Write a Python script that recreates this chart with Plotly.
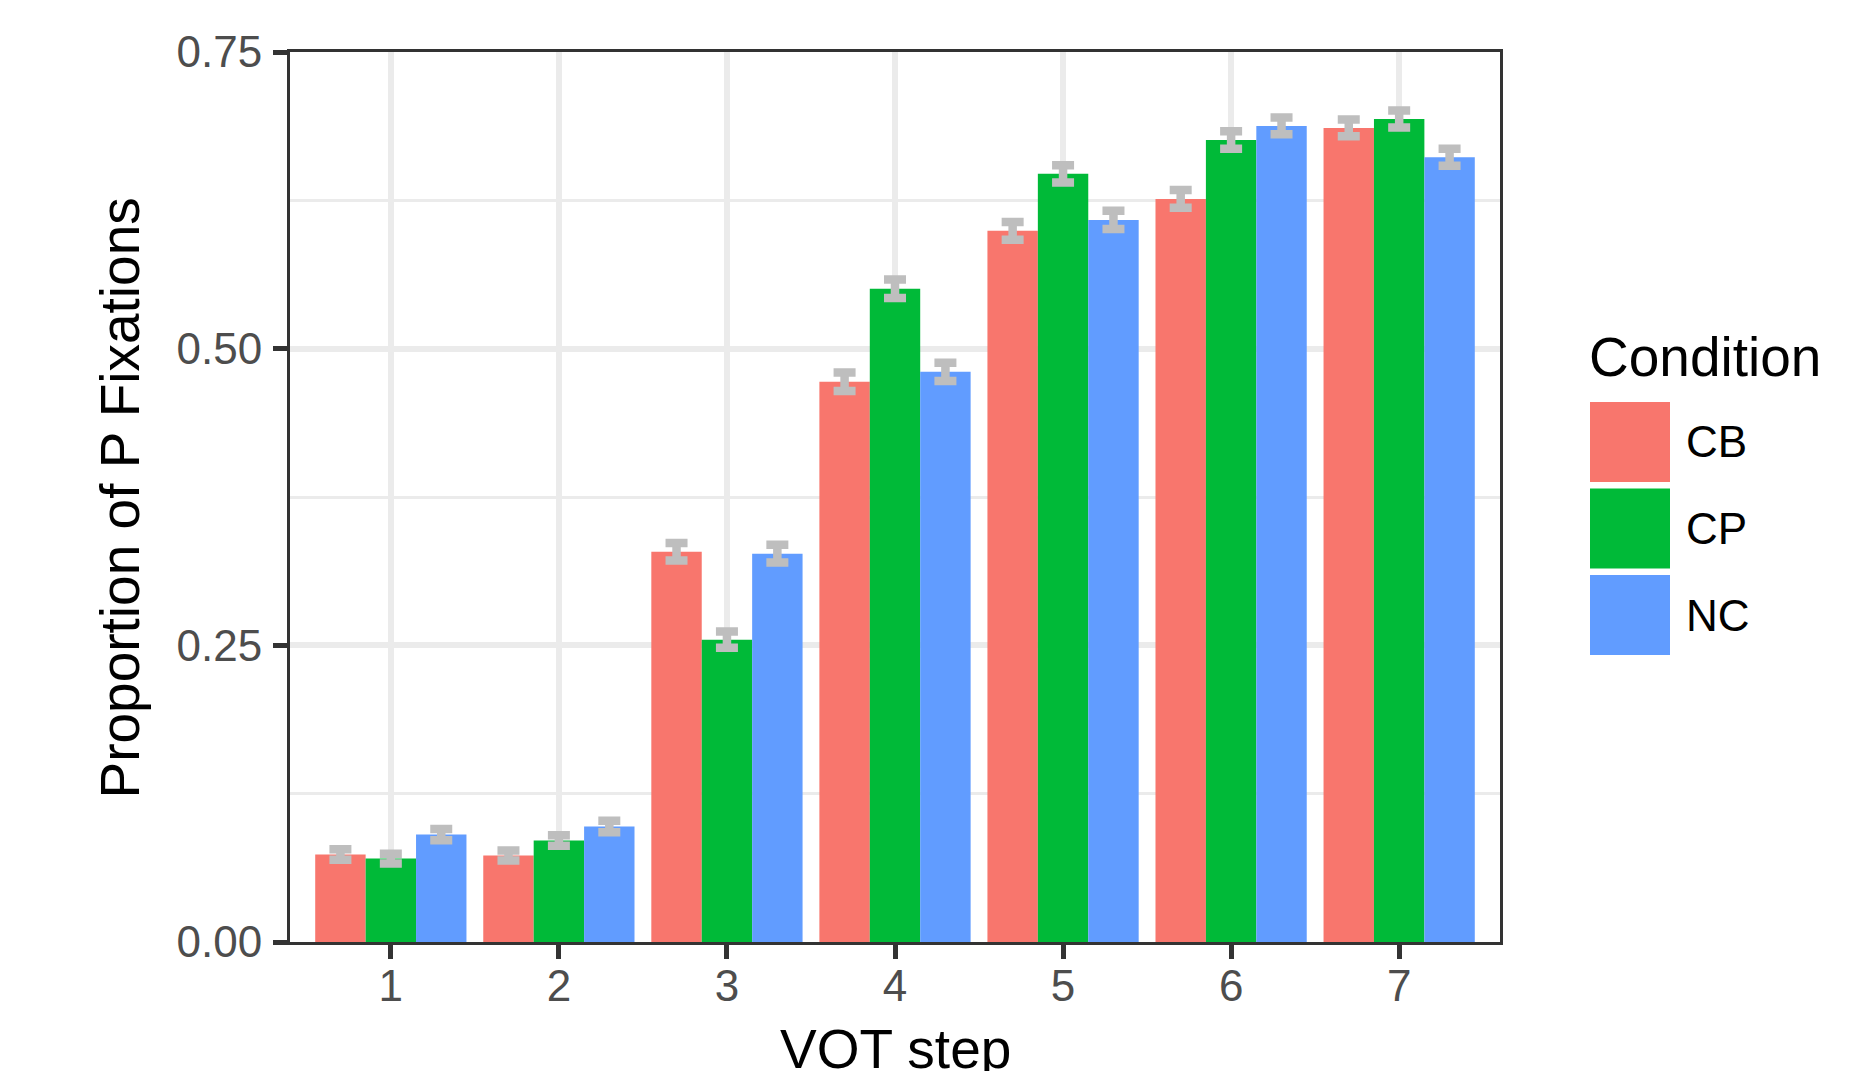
import plotly.graph_objects as go

# VOT continuum steps and experimental conditions
steps = [1, 2, 3, 4, 5, 6, 7]
conditions = ["CB", "CP", "NC"]
colors = ["#F8766D", "#00BA38", "#619CFF"]

# Mean proportion of P fixations per step, by condition
cb_mean = [0.0737, 0.0729, 0.3289, 0.4721, 0.5993, 0.6262, 0.6860]
cp_mean = [0.0703, 0.0855, 0.2548, 0.5504, 0.6473, 0.6759, 0.6936]
nc_mean = [0.0905, 0.0973, 0.3272, 0.4805, 0.6085, 0.6877, 0.6613]

# Standard errors
cb_se = [0.0044, 0.0043, 0.0074, 0.0078, 0.0075, 0.0075, 0.0071]
cp_se = [0.0041, 0.0044, 0.0068, 0.0078, 0.0072, 0.0074, 0.0072]
nc_se = [0.0048, 0.0048, 0.0075, 0.0077, 0.0077, 0.0071, 0.0071]

y_ticks = [0.0, 0.25, 0.5, 0.75]
y_tick_text = ["0.00", "0.25", "0.50", "0.75"]

means = [cb_mean, cp_mean, nc_mean]
ses = [cb_se, cp_se, nc_se]

FONT = "Liberation Sans, Arial, Helvetica, sans-serif"
W, H = 1871, 1071
L, R, T, B = 290, 371, 52, 129
PW, PH = W - L - R, H - T - B


def px_x(x):
    return (x - L) / PW


def px_y(y):
    return (H - B - y) / PH


fig = go.Figure()
for name, col, m, s in zip(conditions, colors, means, ses):
    fig.add_trace(go.Bar(
        x=steps, y=m, name=name,
        marker=dict(color=col, line=dict(width=0)),
        error_y=dict(type="data", array=s, visible=True,
                     color="#BEBEBE", thickness=8.5, width=11),
        showlegend=False,
    ))

axis_common = dict(
    showline=True, linecolor="#333333", linewidth=3, mirror=True,
    ticks="outside", ticklen=14, tickwidth=4.5, tickcolor="#333333",
    tickfont=dict(family=FONT, size=44, color="#4D4D4D"),
    gridcolor="#EBEBEB", gridwidth=5.5, zeroline=False,
)

fig.update_layout(
    width=W, height=H,
    margin=dict(l=L, r=R, t=T, b=B, autoexpand=False),
    paper_bgcolor="white", plot_bgcolor="white",
    barmode="group", bargap=0.1, bargroupgap=0,
    font=dict(family=FONT),
    xaxis=dict(axis_common, range=[0.4, 7.6], tickvals=steps,
               ticktext=[str(s) for s in steps], ticklabelstandoff=-11),
    yaxis=dict(axis_common, range=[0, 0.75], tickvals=y_ticks,
               ticktext=y_tick_text, ticklabelstandoff=2,
               minor=dict(tickvals=[0.125, 0.375, 0.625], showgrid=True,
                          gridcolor="#EBEBEB", gridwidth=3, ticks="")),
)

# Axis titles
fig.add_annotation(text="VOT step", xref="paper", yref="paper",
                   x=0.5, y=0, xanchor="center", yanchor="top", yshift=-74,
                   showarrow=False, font=dict(family=FONT, size=55, color="black"))
fig.add_annotation(text="Proportion of P Fixations", xref="paper", yref="paper",
                   x=px_x(119), y=px_y(498.5), xanchor="center", yanchor="middle",
                   textangle=-90, showarrow=False,
                   font=dict(family=FONT, size=55, color="black"))

# Legend: title, colour keys and labels
fig.add_annotation(text="Condition", xref="paper", yref="paper",
                   x=px_x(1587), y=px_y(357), xanchor="left", yanchor="middle",
                   showarrow=False, font=dict(family=FONT, size=55, color="black"))
key_top, key_size, key_pitch = 402, 80, 86.5
for i, (name, col) in enumerate(zip(conditions, colors)):
    y0 = key_top + i * key_pitch
    fig.add_shape(type="rect", xref="paper", yref="paper",
                  x0=px_x(1590), x1=px_x(1590 + key_size),
                  y0=px_y(y0 + key_size), y1=px_y(y0),
                  fillcolor=col, line=dict(width=0))
    fig.add_annotation(text=name, xref="paper", yref="paper",
                       x=px_x(1684), y=px_y(y0 + key_size / 2),
                       xanchor="left", yanchor="middle", showarrow=False,
                       font=dict(family=FONT, size=44, color="black"))

fig.write_html("out.html")
